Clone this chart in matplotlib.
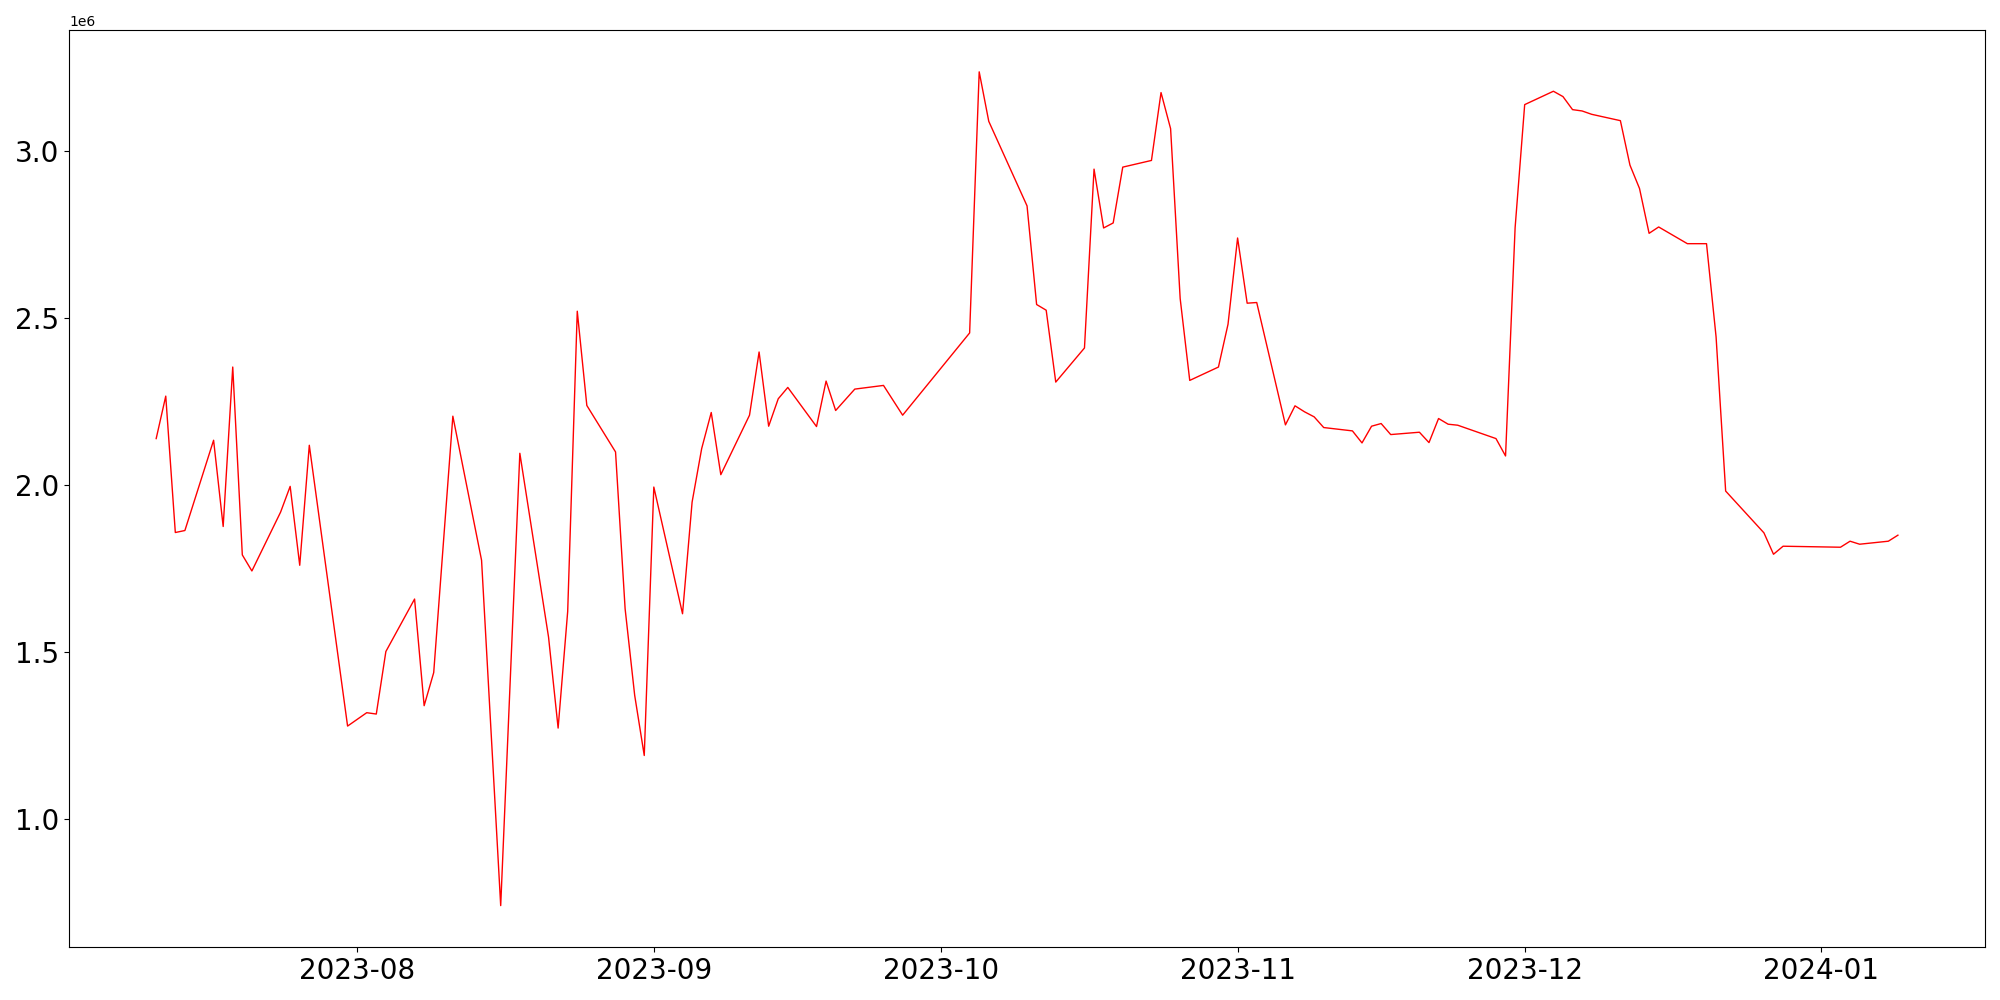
"""Daily value series, Jul 2023 - Jan 2024."""

import matplotlib
matplotlib.use("Agg")
import matplotlib.pyplot as plt
import pandas as pd

dates = [
    "2023-07-11", "2023-07-12", "2023-07-13", "2023-07-14", "2023-07-17", "2023-07-18",
    "2023-07-19", "2023-07-20", "2023-07-21", "2023-07-24", "2023-07-25", "2023-07-26",
    "2023-07-27", "2023-07-31", "2023-08-02", "2023-08-03", "2023-08-04", "2023-08-07",
    "2023-08-08", "2023-08-09", "2023-08-11", "2023-08-14", "2023-08-16", "2023-08-18",
    "2023-08-21", "2023-08-22", "2023-08-23", "2023-08-24", "2023-08-25", "2023-08-28",
    "2023-08-29", "2023-08-30", "2023-08-31", "2023-09-01", "2023-09-04", "2023-09-05",
    "2023-09-06", "2023-09-07", "2023-09-08", "2023-09-11", "2023-09-12", "2023-09-13",
    "2023-09-14", "2023-09-15", "2023-09-18", "2023-09-19", "2023-09-20", "2023-09-22",
    "2023-09-25", "2023-09-27", "2023-10-04", "2023-10-05", "2023-10-06", "2023-10-10",
    "2023-10-11", "2023-10-12", "2023-10-13", "2023-10-16", "2023-10-17", "2023-10-18",
    "2023-10-19", "2023-10-20", "2023-10-23", "2023-10-24", "2023-10-25", "2023-10-26",
    "2023-10-27", "2023-10-30", "2023-10-31", "2023-11-01", "2023-11-02", "2023-11-03",
    "2023-11-06", "2023-11-07", "2023-11-08", "2023-11-09", "2023-11-10", "2023-11-13",
    "2023-11-14", "2023-11-15", "2023-11-16", "2023-11-17", "2023-11-20", "2023-11-21",
    "2023-11-22", "2023-11-23", "2023-11-24", "2023-11-28", "2023-11-29", "2023-11-30",
    "2023-12-01", "2023-12-04", "2023-12-05", "2023-12-06", "2023-12-07", "2023-12-08",
    "2023-12-11", "2023-12-12", "2023-12-13", "2023-12-14", "2023-12-15", "2023-12-18",
    "2023-12-20", "2023-12-21", "2023-12-22", "2023-12-26", "2023-12-27", "2023-12-28",
    "2024-01-03", "2024-01-04", "2024-01-05", "2024-01-08", "2024-01-09",
]

# values in millions
values_m = [
    2.139, 2.266, 1.858, 1.864, 2.134, 1.876,
    2.353, 1.791, 1.743, 1.919, 1.996, 1.760,
    2.119, 1.279, 1.319, 1.315, 1.502, 1.659,
    1.340, 1.439, 2.206, 1.775, 0.742, 2.095,
    1.545, 1.273, 1.622, 2.520, 2.238, 2.099,
    1.630, 1.371, 1.191, 1.994, 1.615, 1.949,
    2.109, 2.217, 2.031, 2.209, 2.398, 2.176,
    2.258, 2.292, 2.175, 2.311, 2.223, 2.287,
    2.298, 2.209, 2.455, 3.236, 3.088, 2.835,
    2.540, 2.523, 2.308, 2.410, 2.945, 2.769,
    2.784, 2.951, 2.971, 3.174, 3.066, 2.558,
    2.313, 2.353, 2.481, 2.739, 2.544, 2.546,
    2.180, 2.237, 2.219, 2.204, 2.172, 2.162,
    2.126, 2.176, 2.184, 2.151, 2.158, 2.127,
    2.199, 2.182, 2.179, 2.139, 2.087, 2.770,
    3.138, 3.178, 3.162, 3.123, 3.119, 3.109,
    3.090, 2.957, 2.887, 2.753, 2.772, 2.722,
    2.722, 2.443, 1.982, 1.857, 1.793, 1.817,
    1.814, 1.832, 1.823, 1.832, 1.850,
]


def main() -> None:
    x = pd.to_datetime(dates)
    y = [v * 1e6 for v in values_m]

    fig, ax = plt.subplots(figsize=(20, 10))
    ax.plot(x, y, color="red", linewidth=1)
    plt.xticks(fontsize=20)
    plt.yticks(fontsize=20)
    fig.tight_layout()
    fig.savefig("out.png", dpi=100)
    plt.close(fig)


if __name__ == "__main__":
    main()
